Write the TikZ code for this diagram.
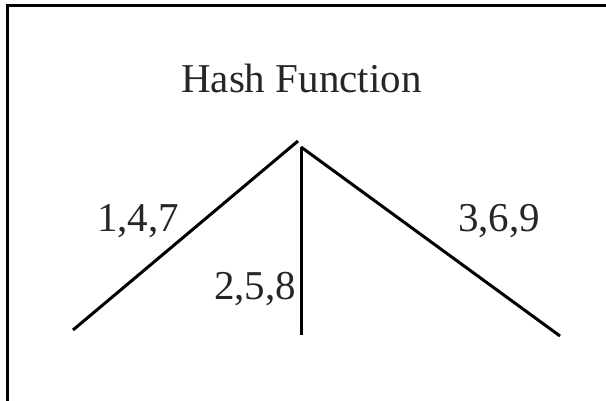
\documentclass[tikz,border=0pt]{standalone}
\usepackage{fontspec}
\setmainfont{Liberation Serif}
\begin{document}
\begin{tikzpicture}[x=1pt,y=-1pt,
  lbl/.style={inner sep=0pt,anchor=base west,font=\fontsize{41}{45}\selectfont,text=black!85},
  edge/.style={line width=3pt,black}]
\useasboundingbox (0,0) rectangle (606,401);
\draw[line width=3pt] (7,401) -- (7,6) -- (606,6);
\node[lbl] (title) at (181,93) {Hash Function};
\coordinate (apexL) at (298,141);
\coordinate (apex) at (301,147);
\coordinate (endL) at (73,330);
\coordinate (endM) at (301,335);
\coordinate (endR) at (560,336);
\draw[edge] (apexL) -- (endL);
\draw[edge] (apex) -- (endM);
\draw[edge] (apex) -- (endR);
\node[lbl] (a) at (97,232) {1,4,7};
\node[lbl] (b) at (214,300) {2,5,8};
\node[lbl] (c) at (458,232) {3,6,9};
\end{tikzpicture}
\end{document}
